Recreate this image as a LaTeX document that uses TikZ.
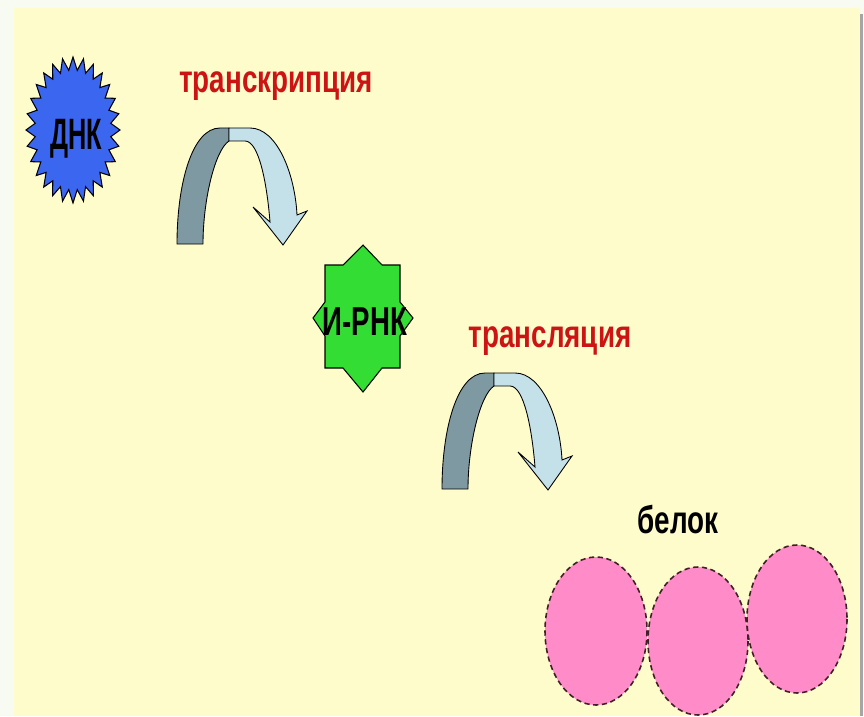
\documentclass[tikz,border=0pt]{standalone}
\usepackage{fontspec}
\setmainfont{Liberation Sans}[FakeStretch=0.72]
\definecolor{fondo}{HTML}{FFFCCB}
\definecolor{pagina}{HTML}{F8FBF2}
\definecolor{azulADN}{HTML}{3A66F0}
\definecolor{verdeARN}{HTML}{33DD33}
\definecolor{rojo}{HTML}{CC1414}
\definecolor{rosa}{HTML}{FF8CC8}
\definecolor{flechaOscura}{HTML}{7E99A1}
\definecolor{flechaClara}{HTML}{C4E1EA}
\definecolor{bordeRosa}{HTML}{402028}

\begin{document}
\begin{tikzpicture}[x=0.02cm, y=-0.02cm, >=latex]
    % Definición de coordenadas
    \coordinate (ADN) at (73,130);      % estrella azul
    \coordinate (ARN) at (363,318);     % estrella verde
    \coordinate (F1) at (177,244);      % pie de la primera flecha
    \coordinate (F2) at (442,489);      % pie de la segunda flecha

    \useasboundingbox (0,0) rectangle (864,716);

    % --- FONDO ---
    \fill[pagina] (0,0) rectangle (864,716);
    \fill[gray!70] (860,14) rectangle (863,716);
    \fill[fondo] (14,8) rectangle (860,716);

    % --- ESTILOS ---
    \tikzset{
        rotulo/.style={font=\bfseries\fontsize{22}{26}\selectfont, inner sep=0pt, anchor=base},
        molecula/.style={draw=black, line width=0.6pt, line join=miter},
        bola/.style={fill=rosa, draw=bordeRosa, densely dashed, line width=0.9pt},
        pics/giro/.style={code={
            % parte oscura
            \filldraw[fill=flechaOscura, draw=black, line width=0.5pt]
                (0,0) .. controls (0,-60) and (15,-116) .. (43,-116)
                -- (52,-116) -- (52,-103)
                .. controls (38,-94) and (26,-44) .. (26,0) -- cycle;
            % parte clara con la punta
            \filldraw[fill=flechaClara, draw=black, line width=0.5pt]
                (52,-116) -- (73,-116)
                .. controls (100,-116) and (118,-70) .. (120,-29)
                -- (130,-33) -- (106,1) -- (76,-37) -- (93,-22)
                .. controls (90,-60) and (82,-103) .. (68,-103)
                -- (52,-103) -- cycle;
        }}
    }

    % --- ESTRELLA DEL ADN ---
    \filldraw[molecula, fill=azulADN, shift={(ADN)}] (0:47 and 73)
        \foreach \i in {1,...,28} { -- (\i*360/28-360/56:38 and 60) -- (\i*360/28:47 and 73) } -- cycle;
    \node[rotulo, font=\bfseries\fontsize{25}{28}\selectfont] (adn) at (76,150) {\scalebox{0.8}[1]{ДНК}};

    % --- TRANSCRIPCIÓN ---
    \node[rotulo, text=rojo] (transcripcion) at (276,93) {транскрипция};
    \pic at (F1) {giro};

    % --- ESTRELLA DEL ARN ---
    \filldraw[molecula, fill=verdeARN]
        (363,245) -- (382,265) -- (400,265) -- (400,302) -- (413,318) -- (400,336)
        -- (400,368) -- (382,368) -- (363,392) -- (343,368) -- (325,368) -- (325,336)
        -- (313,318) -- (325,302) -- (325,265) -- (343,265) -- cycle;
    \node[rotulo, font=\bfseries\fontsize{23}{26}\selectfont] (arn) at (365,335) {\scalebox{0.95}[1]{И-РНК}};

    % --- TRADUCCIÓN ---
    \node[rotulo, text=rojo] (traduccion) at (550,347) {трансляция};
    \pic at (F2) {giro};

    % --- PROTEÍNA ---
    \node[rotulo] (proteina) at (678,533) {белок};
    \draw[bola] (596,631) ellipse (51 and 74);
    \draw[bola] (698,641) ellipse (50 and 74);
    \draw[bola] (797,619) ellipse (50 and 74);

\end{tikzpicture}
\end{document}
